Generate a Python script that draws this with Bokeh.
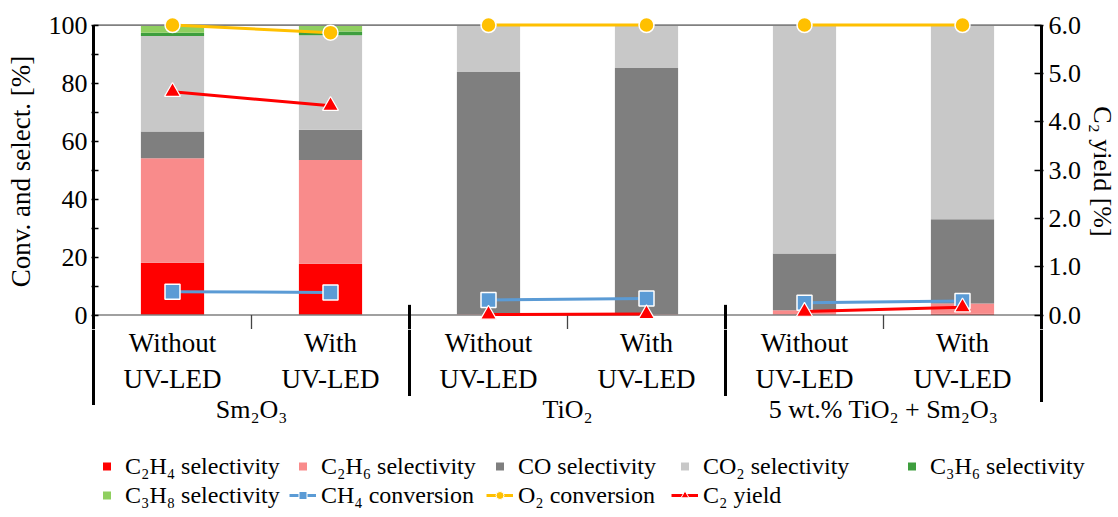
from bokeh.plotting import figure
from bokeh.models import (Range1d, LinearAxis, FixedTicker, PrintfTickFormatter,
                          Legend, LegendItem, ColumnDataSource)
from bokeh.core.properties import value
from bokeh.layouts import column
from bokeh.embed import file_html
from bokeh.resources import INLINE

# ---------------- data ----------------
conditions = ["Without", "With", "Without", "With", "Without", "With"]
condition_line2 = ["UV-LED"] * 6
groups = ["Sm₂O₃", "TiO₂", "5 wt.% TiO₂ + Sm₂O₃"]

c2h4_sel = [18.0, 17.7, 0.0, 0.0, 0.2, 0.4]
c2h6_sel = [36.1, 35.8, 0.3, 0.3, 1.4, 3.6]
co_sel = [9.2, 10.4, 83.5, 84.9, 19.6, 29.0]
co2_sel = [32.9, 32.6, 16.2, 14.8, 78.8, 67.0]
c3h6_sel = [1.2, 1.3, 0.0, 0.0, 0.0, 0.0]
c3h8_sel = [2.6, 2.2, 0.0, 0.0, 0.0, 0.0]

ch4_conv = [8.0, 7.8, 5.2, 5.7, 4.2, 4.8]
o2_conv = [100.0, 97.4, 100.0, 100.0, 100.0, 100.0]
c2_yield = [4.62, 4.33, 0.01, 0.02, 0.07, 0.16]

left_ticks = [0, 20, 40, 60, 80, 100]
left_minor = [10, 30, 50, 70, 90]
right_ticks = [0, 1, 2, 3, 4, 5, 6]

FONT = "Liberation Serif"
C_C2H4 = "#FF0000"
C_C2H6 = "#F98B8B"
C_CO = "#7F7F7F"
C_CO2 = "#C8C8C8"
C_C3H6 = "#3E9E3E"
C_C3H8 = "#8FCF5F"
C_CH4 = "#5B9BD5"
C_O2 = "#FFC000"
C_Y = "#FF0000"

xs = [i + 0.5 for i in range(len(conditions))]
nan = float("nan")

PX = 158.0      # px per x unit
PY = 2.903      # px per y unit
PAD = 2.0 / PX
Y_TOP, Y_BOT = 104.0, -5.0
FW = int(round((6 + 2 * PAD) * PX))
FH = int(round((Y_TOP - Y_BOT) * PY))
ML, MR, MT = 91, 73, 13
H2 = 515 - (MT + FH)
FW2 = 1116 - ML

# ---------------- main plot ----------------
p = figure(frame_width=FW, frame_height=FH,
           x_range=Range1d(-PAD, 6 + PAD), y_range=Range1d(Y_BOT, Y_TOP),
           x_axis_location=None, y_axis_location="left",
           output_backend="svg", toolbar_location=None,
           min_border_left=ML, min_border_right=MR, min_border_top=MT, min_border_bottom=0)
p.grid.visible = False
p.outline_line_color = None

ya = p.yaxis[0]
ya.ticker = FixedTicker(ticks=left_ticks, minor_ticks=left_minor)
ya.axis_line_color = None
ya.major_tick_in = 7
ya.major_tick_out = 0
ya.minor_tick_in = 7
ya.minor_tick_out = 0
ya.major_tick_line_color = "black"
ya.minor_tick_line_color = "black"
ya.major_tick_line_width = 1.5
ya.minor_tick_line_width = 1.5
ya.major_label_text_font = FONT
ya.major_label_text_font_size = "26px"
ya.major_label_text_color = "black"
ya.major_label_standoff = 4
ya.axis_label = "Conv. and select. [%]"
ya.axis_label_text_font = FONT
ya.axis_label_text_font_size = "27px"
ya.axis_label_text_font_style = "normal"
ya.axis_label_text_color = "black"
ya.axis_label_standoff = 10

p.extra_y_ranges = {"yield": Range1d(Y_BOT * 0.06, Y_TOP * 0.06)}
ra = LinearAxis(y_range_name="yield", ticker=FixedTicker(ticks=right_ticks),
                formatter=PrintfTickFormatter(format="%.1f"))
ra.axis_line_color = None
ra.major_tick_in = 9
ra.major_tick_out = 0
ra.minor_tick_line_color = None
ra.major_tick_line_color = "black"
ra.major_tick_line_width = 1.5
ra.major_label_text_font = FONT
ra.major_label_text_font_size = "26px"
ra.major_label_text_color = "black"
ra.major_label_standoff = 5
ra.axis_label = "C₂ yield [%]"
ra.axis_label_text_font = FONT
ra.axis_label_text_font_size = "26px"
ra.axis_label_text_font_style = "normal"
ra.axis_label_text_color = "black"
ra.axis_label_standoff = 4
p.add_layout(ra, "right")

src = ColumnDataSource(dict(x=xs, c2h4=c2h4_sel, c2h6=c2h6_sel, co=co_sel, co2=co2_sel,
                            c3h6=c3h6_sel, c3h8=c3h8_sel))
p.vbar_stack(["c2h4", "c2h6", "co", "co2", "c3h6", "c3h8"], x="x", width=0.4, source=src,
             color=[C_C2H4, C_C2H6, C_CO, C_CO2, C_C3H6, C_C3H8], line_color=None)

# top border and baseline
p.segment(x0=[0, 0], y0=[100, 0], x1=[6, 6], y1=[100, 0], line_color="#808080", line_width=1.6)
# axis lines and group separators (upper part)
p.segment(x0=[0, 6, 2, 4], y0=[100, 100, 3.5, 3.5], x1=[0, 6, 2, 4], y1=[Y_BOT] * 4,
          line_color="black", line_width=3)
# small ticks between conditions
p.segment(x0=[1, 3, 5], y0=[0] * 3, x1=[1, 3, 5], y1=[Y_BOT] * 3, line_color="#444444", line_width=1.3)


def broken(vals):
    bx, by = [], []
    for i, v in enumerate(vals):
        if i > 0 and i % 2 == 0:
            bx.append(nan)
            by.append(nan)
        bx.append(xs[i])
        by.append(v)
    return bx, by


bx, by = broken(ch4_conv)
p.line(bx, by, line_color=C_CH4, line_width=3)
p.scatter(xs, ch4_conv, marker="square", size=15, fill_color=C_CH4, line_color="white", line_width=1.5)

bx, by = broken(c2_yield)
p.line(bx, by, line_color=C_Y, line_width=3, y_range_name="yield")
p.scatter(xs, c2_yield, marker="triangle", size=16, fill_color=C_Y, line_color="white",
          line_width=1.2, y_range_name="yield")

bx, by = broken(o2_conv)
p.line(bx, by, line_color=C_O2, line_width=3)
p.scatter(xs, o2_conv, marker="circle", size=15, fill_color=C_O2, line_color="white", line_width=1.5)

# ---------------- lower panel: category labels + legend ----------------
p2 = figure(frame_width=FW2, frame_height=H2,
            x_range=Range1d(-PAD, -PAD + FW2 / PX),
            y_range=Range1d(Y_BOT - H2 / PY, Y_BOT),
            x_axis_location=None, y_axis_location=None,
            output_backend="svg", toolbar_location=None,
            min_border_left=ML, min_border_right=0, min_border_top=0, min_border_bottom=0)
p2.grid.visible = False
p2.outline_line_color = None

p2.segment(x0=[0, 6, 2, 4], y0=[Y_BOT] * 4, x1=[0, 6, 2, 4], y1=[-31, -30, -27.9, -27.9],
           line_color="black", line_width=3)

p2.text(x=xs, y=[-9.65] * 6, text=conditions, text_align="center", text_baseline="middle",
        text_font=value(FONT), text_font_size=value("27px"), text_color="black")
p2.text(x=xs, y=[-22.0] * 6, text=condition_line2, text_align="center", text_baseline="middle",
        text_font=value(FONT), text_font_size=value("27px"), text_color="black")
p2.text(x=[1, 3, 5], y=[-32.7] * 3, text=groups, text_align="center", text_baseline="middle",
        text_font=value(FONT), text_font_size=value("26px"), text_color="black")


def sq(color):
    return p2.scatter([nan], [nan], marker="square", size=8, fill_color=color, line_color=None)


def ln(color, marker):
    a = p2.line([nan, nan], [nan, nan], line_color=color, line_width=3)
    b = p2.scatter([nan], [nan], marker=marker, size=9, fill_color=color, line_color="white", line_width=1)
    return [a, b]


columns = [
    [("C₂H₄ selectivity", [sq(C_C2H4)]), ("C₃H₈ selectivity", [sq(C_C3H8)])],
    [("C₂H₆ selectivity", [sq(C_C2H6)]), ("CH₄ conversion", ln(C_CH4, "square"))],
    [("CO selectivity", [sq(C_CO)]), ("O₂ conversion", ln(C_O2, "circle"))],
    [("CO₂ selectivity", [sq(C_CO2)]), ("C₂ yield", ln(C_Y, "triangle"))],
    [("C₃H₆ selectivity", [sq(C_C3H6)])],
]
col_x = [2, 198, 395, 580, 807]
for cx, col in zip(col_x, columns):
    items = [LegendItem(label=lab, renderers=rs) for lab, rs in col]
    loc_y = 6 if len(col) == 2 else 35
    lg = Legend(items=items, location=(cx, loc_y), orientation="vertical",
                padding=0, spacing=1, margin=0, glyph_width=27, glyph_height=20,
                label_standoff=5, label_height=28,
                label_text_font=FONT, label_text_font_size="24px", label_text_color="black",
                border_line_color=None, background_fill_alpha=0)
    p2.add_layout(lg)

layout = column(p, p2, spacing=0)
open("out.html", "w").write(file_html(layout, INLINE))
